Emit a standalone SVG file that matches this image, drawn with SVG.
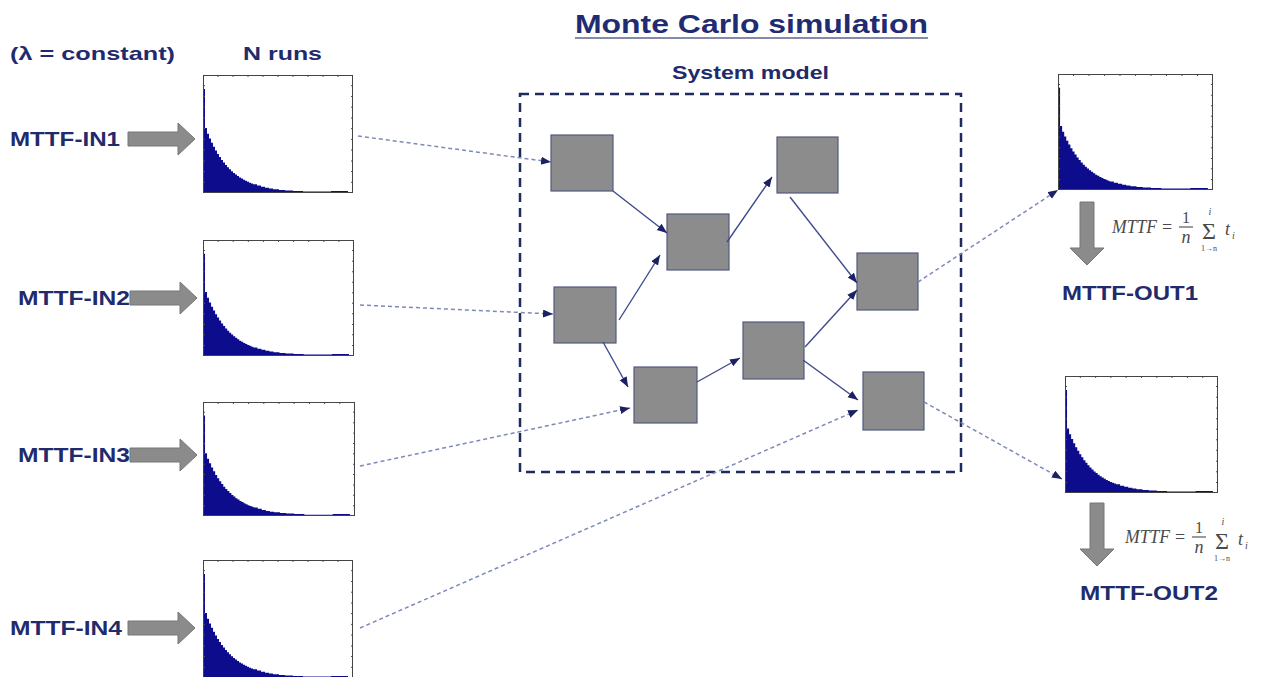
<svg xmlns="http://www.w3.org/2000/svg" xmlns:xlink="http://www.w3.org/1999/xlink" width="1266" height="677" viewBox="0 0 1266 677">
<style>
.lbl{font-family:"Liberation Sans",Arial,sans-serif;font-weight:bold;fill:#1f2b6c}
.title{font-family:"Liberation Sans",Arial,sans-serif;font-weight:bold;fill:#1f2b72;font-size:25px}
.box{fill:#8c8c8c;stroke:#515a7e;stroke-width:1.2}
.fat{fill:#8b8b8b;stroke:#767676;stroke-width:1}
.solid{fill:none;stroke:#3f4b8c;stroke-width:1.4;marker-end:url(#ah)}
.dash{fill:none;stroke:#7e89bb;stroke-width:1.5;stroke-dasharray:4 3;marker-end:url(#ah)}
.f{font-family:"Liberation Serif","Times New Roman",serif;fill:#4a4a4a;font-style:italic}
.fr{font-family:"Liberation Serif","Times New Roman",serif;fill:#4a4a4a}
</style>
<defs>
<marker id="ah" markerUnits="userSpaceOnUse" markerWidth="11" markerHeight="9" refX="10" refY="4" orient="auto">
<path d="M0,0 L10,4 L0,8 z" fill="#1b2162"/>
</marker>
<symbol id="hist" viewBox="0 0 150 118" preserveAspectRatio="none">
<rect x="0" y="0" width="150" height="118" fill="#fff"/>
<path d="M0,118 V14 H2 V53 H4 V58.7 H6 V63.5 H8 V67.8 H10 V71.8 H12 V75.5 H14 V78.9 H16 V82 H18 V84.9 H20 V87.6 H22 V90 H24 V92.2 H26 V94.3 H28 V96.2 H30 V97.9 H32 V99.5 H34 V101 H36 V102.4 H38 V103.6 H40 V104.8 H42 V105.8 H44 V106.8 H46 V107.7 H48 V108.5 H50 V109.3 H54 V110.6 H58 V111.7 H62 V112.7 H66 V113.5 H70 V114.2 H76 V115 H82 V115.5 H90 V116 H100 V116.6 H128 V116 H145 V118 Z" fill="#0c0c8c"/>
<path d="M15,0v2M30,0v2M45,0v2M60,0v2M75,0v2M90,0v2M105,0v2M120,0v2M135,0v2M0,10.7h2M0,21.5h2M0,32.2h2M0,43h2M0,53.6h2M0,64.4h2M0,75h2M0,86h2M0,96.5h2M0,107.3h2M150,10.7h-2M150,21.5h-2M150,32.2h-2M150,43h-2M150,53.6h-2M150,64.4h-2M150,75h-2M150,86h-2M150,96.5h-2M150,107.3h-2" stroke="#555" stroke-width="1" fill="none"/>
<rect x="0.5" y="0.5" width="149" height="117" fill="none" stroke="#444" stroke-width="1"/>
</symbol>
<path id="rarrow" d="M-67,-7 H-17 V-16 L0,0 L-17,16 V7 H-67 Z"/>
<path id="darrow" d="M-7,-63 H7 V-17 H17 L0,0 L-17,-17 H-7 Z"/>
<g id="formula">
<text class="f" x="0" y="6" font-size="18" textLength="45" lengthAdjust="spacingAndGlyphs">MTTF</text>
<text class="fr" x="50" y="6" font-size="18">=</text>
<text class="fr" x="74" y="-4" font-size="16" text-anchor="middle">1</text>
<line x1="67" y1="0" x2="81" y2="0" stroke="#4a4a4a" stroke-width="1.1"/>
<text class="f" x="74" y="16" font-size="18" text-anchor="middle">n</text>
<text class="fr" x="97" y="12" font-size="24" text-anchor="middle">Σ</text>
<text class="f" x="98" y="-12" font-size="10" text-anchor="middle">i</text>
<text class="fr" x="97" y="24" font-size="8" text-anchor="middle">1→n</text>
<text class="f" x="113" y="8" font-size="18">t</text>
<text class="f" x="120" y="12" font-size="10">i</text>
</g>
</defs>
<rect width="1266" height="677" fill="#fff"/>

<g id="header">
<text class="title" x="575" y="33" textLength="353" lengthAdjust="spacingAndGlyphs">Monte Carlo simulation</text>
<line x1="575" y1="38" x2="928" y2="38" stroke="#5a6390" stroke-width="1.5"/>
<text class="lbl" x="10" y="60" font-size="19" textLength="165" lengthAdjust="spacingAndGlyphs">(λ = constant)</text>
<text class="lbl" x="243" y="60" font-size="19" textLength="79" lengthAdjust="spacingAndGlyphs">N runs</text>
</g>

<g id="system-model">
<rect x="520" y="94" width="441" height="378" fill="none" stroke="#1f2a5e" stroke-width="2.5" stroke-dasharray="9 6"/>
<text class="lbl" x="672" y="79" font-size="19" textLength="157" lengthAdjust="spacingAndGlyphs">System model</text>
</g>

<g id="input1">
<text class="lbl" x="10" y="146" font-size="20" textLength="110" lengthAdjust="spacingAndGlyphs">MTTF-IN1</text>
<use href="#rarrow" class="fat" transform="translate(195,139)"/>
<use href="#hist" x="203" y="75" width="150" height="118"/>
</g>
<g id="input2">
<text class="lbl" x="18" y="305" font-size="20" textLength="112" lengthAdjust="spacingAndGlyphs">MTTF-IN2</text>
<use href="#rarrow" class="fat" transform="translate(197,298)"/>
<use href="#hist" x="203" y="240" width="151" height="116"/>
</g>
<g id="input3">
<text class="lbl" x="18" y="462" font-size="20" textLength="112" lengthAdjust="spacingAndGlyphs">MTTF-IN3</text>
<use href="#rarrow" class="fat" transform="translate(197,455)"/>
<use href="#hist" x="203" y="402" width="152" height="114"/>
</g>
<g id="input4">
<text class="lbl" x="10" y="635" font-size="20" textLength="112" lengthAdjust="spacingAndGlyphs">MTTF-IN4</text>
<use href="#rarrow" class="fat" transform="translate(195,628)"/>
<use href="#hist" x="203" y="560" width="150" height="118"/>
</g>

<g id="block1"><rect class="box" x="551" y="135" width="62" height="56"/></g>
<g id="block2"><rect class="box" x="667" y="214" width="62" height="56"/></g>
<g id="block3"><rect class="box" x="777" y="137" width="61" height="56"/></g>
<g id="block4"><rect class="box" x="554" y="287" width="62" height="56"/></g>
<g id="block5"><rect class="box" x="634" y="367" width="63" height="56"/></g>
<g id="block6"><rect class="box" x="743" y="322" width="61" height="57"/></g>
<g id="block7"><rect class="box" x="857" y="253" width="61" height="57"/></g>
<g id="block8"><rect class="box" x="863" y="372" width="61" height="58"/></g>

<g id="output1">
<use href="#hist" x="1058" y="74" width="155" height="116"/>
<use href="#darrow" class="fat" transform="translate(1087,265)"/>
<use href="#formula" transform="translate(1112,227)"/>
<text class="lbl" x="1062" y="300" font-size="20" textLength="136" lengthAdjust="spacingAndGlyphs">MTTF-OUT1</text>
</g>
<g id="output2">
<use href="#hist" x="1065" y="376" width="153" height="117"/>
<use href="#darrow" class="fat" transform="translate(1097,566)"/>
<use href="#formula" transform="translate(1125,537)"/>
<text class="lbl" x="1080" y="600" font-size="20" textLength="138" lengthAdjust="spacingAndGlyphs">MTTF-OUT2</text>
</g>

<g id="connectors">
<line class="solid" x1="613" y1="191" x2="667" y2="233"/>
<line class="solid" x1="727" y1="242" x2="772" y2="177"/>
<line class="solid" x1="790" y1="197" x2="857" y2="283"/>
<line class="solid" x1="619" y1="320" x2="660" y2="255"/>
<line class="solid" x1="603" y1="342" x2="628" y2="387"/>
<line class="solid" x1="697" y1="382" x2="740" y2="358"/>
<line class="solid" x1="805" y1="347" x2="857" y2="290"/>
<line class="solid" x1="803" y1="360" x2="858" y2="400"/>
<line class="dash" x1="358" y1="136" x2="551" y2="162"/>
<line class="dash" x1="360" y1="305" x2="553" y2="314"/>
<line class="dash" x1="360" y1="466" x2="630" y2="408"/>
<line class="dash" x1="360" y1="628" x2="858" y2="410"/>
<line class="dash" x1="918" y1="282" x2="1058" y2="190"/>
<line class="dash" x1="924" y1="402" x2="1062" y2="479"/>
</g>
</svg>
